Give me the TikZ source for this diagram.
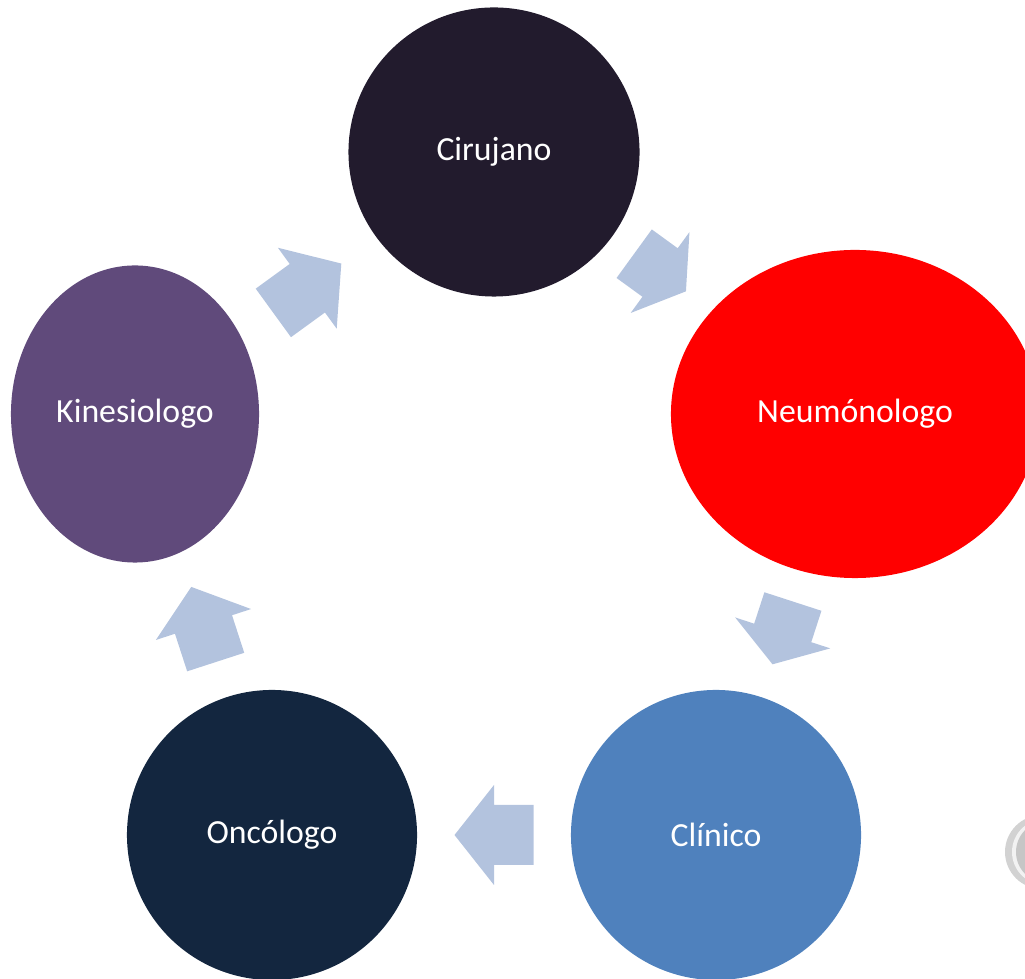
\documentclass[tikz,border=0pt]{standalone}
\usepackage{fontspec}
\setmainfont{Carlito}
\usetikzlibrary{shapes.geometric,calc}

\definecolor{cirujano}{HTML}{221B2D}
\definecolor{neumo}{HTML}{FF0000}
\definecolor{clinico}{HTML}{4F81BD}
\definecolor{oncologo}{HTML}{13263F}
\definecolor{kinesio}{HTML}{604A7B}
\definecolor{flowblue}{HTML}{B3C3DE}

\tikzset{
    role/.style = {
        ellipse,
        inner sep=0pt,
        text=white,
        font=\fontsize{24}{28}\selectfont
    },
    flow/.style = {
        fill=flowblue
    }
}

\begin{document}
\begin{tikzpicture}[x=0.025cm, y=0.025cm]
    \useasboundingbox (0,0) rectangle (1025,979);

    % Draw the five roles
    \node[role, fill=cirujano, minimum width=7.275cm, minimum height=7.225cm] (cir) at (494,827) {Cirujano};
    \node[role, fill=neumo,    minimum width=9.2cm,   minimum height=8.2cm]   (neu) at (855,565) {Neumónologo};
    \node[role, fill=clinico,  minimum width=7.25cm,  minimum height=7.25cm]  (cli) at (716,144) {Clínico};
    \node[role, fill=oncologo, minimum width=7.25cm,  minimum height=7.25cm]  (onc) at (272,144) {Oncólogo};
    \node[role, fill=kinesio,  minimum width=6.2cm,   minimum height=7.425cm] (kin) at (135,565) {Kinesiologo};

    % Draw arrows
    \foreach \from/\to/\pos/\ang/\len in {cir/neu/0.46/-36/64, neu/cli/0.52/-108/66, cli/onc/0.5/180/79, onc/kin/0.5/108/79, kin/cir/0.48/36/84}
        \fill[flow, shift={($(\from)!\pos!(\to)$)}, rotate=\ang]
            (-\len/2,30) -- (0,30) -- (0,50) -- (\len/2,0) -- (0,-50) -- (0,-30) -- (-\len/2,-30) -- cycle;

    % Edge of a gray shape
    \fill[gray!35] (1042,127) circle (37);
    \fill[white!90!gray] (1045,127) circle (33);
    \fill[gray!45] (1047,127) circle (31);
\end{tikzpicture}
\end{document}
